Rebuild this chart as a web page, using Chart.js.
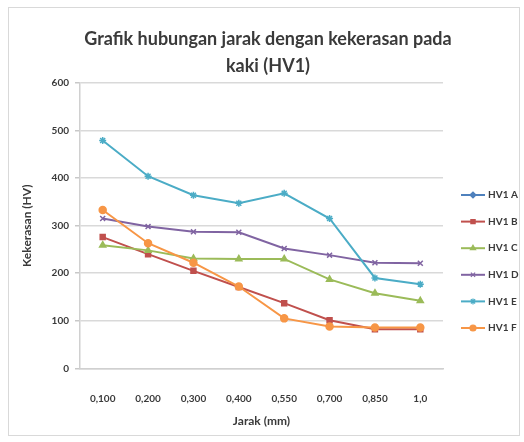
<!DOCTYPE html>
<html>
<head>
<meta charset="utf-8">
<script src="https://cdn.jsdelivr.net/npm/chart.js@4/dist/chart.umd.min.js"></script>
<style>
  html, body { margin: 0; padding: 0; background: #ffffff; }
  canvas { display: block; }
</style>
</head>
<body>
<canvas id="chart" width="524" height="442"></canvas>
<script>
// Distance categories (mm) and hardness readings (HV) per series
const categories = ['0,100', '0,200', '0,300', '0,400', '0,550', '0,700', '0,850', '1,0'];
const seriesNames = ['HV1 A', 'HV1 B', 'HV1 C', 'HV1 D', 'HV1 E', 'HV1 F'];
// HV1 A has no plotted readings; it only appears in the legend
const hv1A = [null, null, null, null, null, null, null, null];
const hv1B = [276, 240, 205, 171, 137, 101, 82, 82];
const hv1C = [259, 248, 231, 230, 230, 187, 158, 142];
const hv1D = [315, 298, 287, 286, 252, 238, 222, 221];
const hv1E = [479, 404, 364, 347, 368, 315, 190, 177];
const hv1F = [333, 263, 222, 172, 105, 88, 86, 86];
const yTicks = [0, 100, 200, 300, 400, 500, 600];
const titleLines = ['Grafik hubungan jarak dengan kekerasan pada', 'kaki (HV1)'];
const xTitle = 'Jarak (mm)';
const yTitle = 'Kekerasan (HV)';

const seriesValues = [hv1A, hv1B, hv1C, hv1D, hv1E, hv1F];
const seriesColors = ['#4F81BD', '#C0504D', '#9BBB59', '#8064A2', '#4BACC6', '#F79646'];
const seriesMarkers = ['rectRot', 'rect', 'triangle', 'crossRot', 'star', 'circle'];

const FONT = 'Lato, "Open Sans", "DejaVu Sans", sans-serif';
const TEXT = '#3a3a3a';

const datasets = seriesNames.map((name, i) => ({
  label: name,
  data: seriesValues[i],
  borderColor: seriesColors[i],
  backgroundColor: seriesColors[i],
  pointStyle: seriesMarkers[i],
  pointRadius: 3.5,
  pointBorderWidth: 1.5,
  borderWidth: 2,
  tension: 0,
  fill: false,
  spanGaps: false,
  // later series are painted over earlier ones
  order: seriesNames.length - i
}));

// Frame, title and legend drawn around the plot
const decorations = {
  id: 'decorations',
  beforeDraw(chart) {
    const ctx = chart.ctx;
    ctx.save();
    ctx.fillStyle = '#ffffff';
    ctx.fillRect(0, 0, chart.width, chart.height);
    ctx.strokeStyle = '#d9d9d9';
    ctx.lineWidth = 1;
    ctx.strokeRect(8.5, 7.5, 511, 428);
    ctx.restore();
  },
  afterDraw(chart) {
    const ctx = chart.ctx;
    ctx.save();
    // title
    ctx.fillStyle = TEXT;
    ctx.font = 'bold 18px ' + FONT;
    ctx.textAlign = 'center';
    ctx.textBaseline = 'middle';
    titleLines.forEach((line, k) => ctx.fillText(line, 268, 39 + k * 27));

    // legend
    chart.data.datasets.forEach((ds, i) => {
      const y = 195 + i * 26.6;
      ctx.strokeStyle = ds.borderColor;
      ctx.lineWidth = 2;
      ctx.beginPath();
      ctx.moveTo(461, y);
      ctx.lineTo(485, y);
      ctx.stroke();
      ctx.fillStyle = ds.backgroundColor;
      ctx.lineWidth = 1.2;
      Chart.helpers.drawPoint(ctx, {
        pointStyle: ds.pointStyle, rotation: 0, borderWidth: 1.2, radius: 3
      }, 473, y);
      ctx.fillStyle = TEXT;
      ctx.font = 'bold 10px ' + FONT;
      ctx.textAlign = 'left';
      ctx.textBaseline = 'middle';
      ctx.fillText(ds.label, 488, y);
    });
    ctx.restore();
  }
};

new Chart(document.getElementById('chart'), {
  type: 'line',
  data: { labels: categories, datasets },
  plugins: [decorations],
  options: {
    responsive: false,
    animation: false,
    devicePixelRatio: 1,
    layout: { padding: { left: 12, right: 81, top: 83, bottom: 12 } },
    plugins: {
      legend: { display: false },
      title: { display: false },
      tooltip: { enabled: false }
    },
    scales: {
      x: {
        type: 'category',
        offset: true,
        grid: { display: false },
        border: { display: true, color: '#d0d0d0', width: 1.5 },
        ticks: {
          color: TEXT,
          font: { family: FONT, size: 10, weight: 'bold' },
          padding: 16,
          maxRotation: 0,
          autoSkip: false
        },
        title: {
          display: true,
          text: xTitle,
          color: TEXT,
          font: { family: FONT, size: 12, weight: 'bold' },
          padding: { top: 2, bottom: 2 }
        },
        afterFit(scale) { scale.height = 61.7; }
      },
      y: {
        min: 0,
        max: 600,
        afterBuildTicks(scale) { scale.ticks = yTicks.map(v => ({ value: v })); },
        grid: {
          color: '#d9d9d9',
          lineWidth: 1.5,
          tickLength: 5,
          tickColor: '#c8c8c8'
        },
        border: { display: true, color: '#d0d0d0', width: 1.5 },
        ticks: {
          color: TEXT,
          font: { family: FONT, size: 10, weight: 'bold' },
          padding: 6
        },
        title: {
          display: true,
          text: yTitle,
          color: TEXT,
          font: { family: FONT, size: 12, weight: 'bold' },
          padding: { top: 8, bottom: 0 }
        },
        afterFit(scale) { scale.width = 68; }
      }
    }
  }
});
</script>
</body>
</html>
